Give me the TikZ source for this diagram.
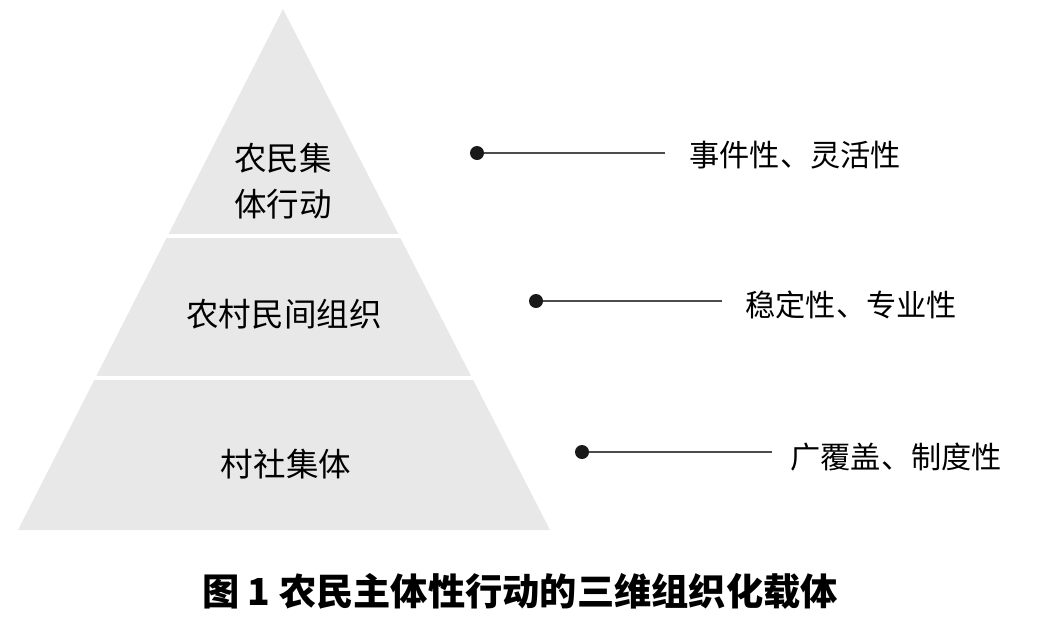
\documentclass[tikz,border=0pt]{standalone}
\usepackage{fontspec}
\newfontfamily\cjk{Noto Sans CJK SC}
\usetikzlibrary{positioning}

\begin{document}
\begin{tikzpicture}[
    x=0.02cm, y=-0.02cm,
    every node/.style={font=\cjk\fontsize{18.5}{26}\selectfont, inner sep=0pt},
    layer/.style={align=center},
    dot/.style={circle, fill=black!90, minimum size=0.28cm},
    trait/.style={anchor=west, font=\cjk\fontsize{17.2}{20}\selectfont},
    lead/.style={line width=0.9pt, black!70}
]
    \useasboundingbox (0,0) rectangle (1045,616);
    % pyramid body and band gaps
    \fill[black!9] (283,9) -- (550,530) -- (18,530) -- cycle;
    \draw[white, line width=2.2pt] (150,236) -- (420,236);
    \draw[white, line width=2.2pt] (80,378) -- (490,378);

    \node[layer] (top) at (283,181) {农民集\\体行动};
    \node[layer] (mid) at (284,314) {农村民间组织};
    \node[layer] (base) at (286,464) {村社集体};

    \node[dot] (d1) at (477,153) {};
    \node[dot] (d2) at (536,301) {};
    \node[dot] (d3) at (582,452) {};
    \coordinate (e1) at (665,153);
    \coordinate (e2) at (722,301);
    \coordinate (e3) at (772,452);
    \node[trait] (t1) at (689,155) {事件性、灵活性};
    \node[trait] (t2) at (745,305) {稳定性、专业性};
    \node[trait] (t3) at (790,457) {广覆盖、制度性};
    \draw[lead] (d1) -- (e1);
    \draw[lead] (d2) -- (e2);
    \draw[lead] (d3) -- (e3);

    \node[font=\cjk\bfseries\fontsize{21.2}{24}\selectfont] (cap) at (520,591) {图 1 农民主体性行动的三维组织化载体};
\end{tikzpicture}
\end{document}
